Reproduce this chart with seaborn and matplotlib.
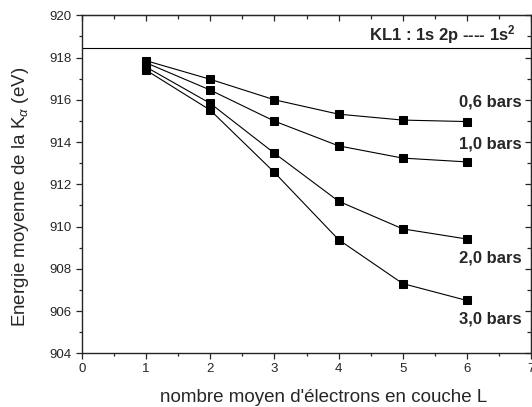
import matplotlib
matplotlib.use("Agg")
import matplotlib.pyplot as plt
import numpy as np
import pandas as pd
import seaborn as sns
from matplotlib.ticker import MultipleLocator

# values
n_electrons = [1, 2, 3, 4, 5, 6]
e_06 = [917.85, 916.97, 916.00, 915.32, 915.04, 914.97]
e_10 = [917.75, 916.46, 914.99, 913.82, 913.24, 913.06]
e_20 = [917.55, 915.83, 913.47, 911.20, 909.89, 909.41]
e_30 = [917.40, 915.51, 912.56, 909.38, 907.30, 906.50]
pressures = ["0,6 bars", "1,0 bars", "2,0 bars", "3,0 bars"]
label_y = [915.9, 913.9, 908.5, 905.6]
kl1_level = 918.44

df = pd.DataFrame({
    "n": n_electrons * 4,
    "E": e_06 + e_10 + e_20 + e_30,
    "p": [p for p in pressures for _ in n_electrons],
})

sns.set_style("ticks")
plt.rcParams["font.family"] = ["Liberation Sans", "DejaVu Sans"]
plt.rcParams["mathtext.fontset"] = "custom"
plt.rcParams["mathtext.rm"] = "Liberation Sans"
plt.rcParams["mathtext.it"] = "Liberation Sans:italic"
plt.rcParams["mathtext.bf"] = "Liberation Sans:bold"

fig = plt.figure(figsize=(5.32, 4.07), dpi=100)
ax = fig.add_axes([82 / 532, 53.7 / 407, 449 / 532, 338 / 407])

sns.lineplot(data=df, x="n", y="E", hue="p", palette=["black"] * 4,
             marker="s", markersize=5.2, markeredgecolor="black",
             linewidth=0.8, legend=False, ax=ax)

ax.axhline(kl1_level, color="black", lw=0.8)

ax.set_xlim(0, 7)
ax.set_ylim(904, 920)
ax.xaxis.set_major_locator(MultipleLocator(1))
ax.xaxis.set_minor_locator(MultipleLocator(0.5))
ax.yaxis.set_major_locator(MultipleLocator(2))
ax.yaxis.set_minor_locator(MultipleLocator(1))
ax.tick_params(which="major", direction="out", length=4.3, width=0.9,
               labelsize=9.5, pad=3)
ax.tick_params(which="minor", direction="out", length=2.3, width=0.9)

for s in ax.spines.values():
    s.set_linewidth(1.0)
    s.set_visible(True)

top = ax.secondary_xaxis("top")
top.xaxis.set_major_locator(MultipleLocator(1))
top.xaxis.set_minor_locator(MultipleLocator(0.5))
top.tick_params(which="major", direction="in", length=4.3, width=0.9, labeltop=False)
top.tick_params(which="minor", direction="in", length=2.8, width=0.9)
right = ax.secondary_yaxis("right")
right.yaxis.set_major_locator(MultipleLocator(2))
right.yaxis.set_minor_locator(MultipleLocator(1))
right.tick_params(which="major", direction="in", length=4.3, width=0.9, labelright=False)
right.tick_params(which="minor", direction="in", length=2.8, width=0.9)

ax.set_xlabel("nombre moyen d'électrons en couche L", fontsize=13.5, va="bottom")
ax.set_ylabel(r"Energie moyenne de la K$_{\alpha}$ (eV)", fontsize=13.5, va="center")
ax.xaxis.set_label_coords(0.539, -0.155)
ax.yaxis.set_label_coords(-0.138, 0.462)

for p, y in zip(pressures, label_y):
    ax.text(6.86, y, p, ha="right", va="center", fontsize=12, fontweight="bold")
ax.text(6.76, 919.07, r"KL1 : 1s 2p ---- 1s$^\mathbf{2}$", ha="right", va="center",
        fontsize=12, fontweight="bold")

fig.savefig("out.png", dpi=100)
